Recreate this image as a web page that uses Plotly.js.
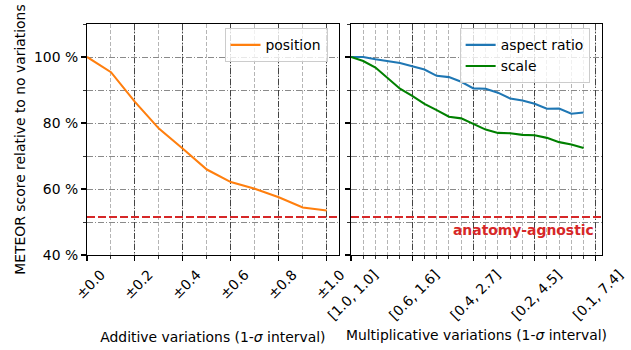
<!DOCTYPE html>
<html>
<head>
<meta charset="utf-8">
<script src="https://cdn.plot.ly/plotly-3.0.1.min.js"></script>
<style>html,body{margin:0;padding:0;background:#fff;}#chart{width:631px;height:350px;}</style>
</head>
<body>
<div id="chart"></div>
<script>
// ---- data ----
const additiveX = [0, 0.1, 0.2, 0.3, 0.4, 0.5, 0.6, 0.7, 0.8, 0.9, 1.0];
const positionVals = [100, 95.4, 86.4, 78.3, 72.2, 65.9, 62.1, 60.1, 57.5, 54.4, 53.5];

const sigmaX = [0, 0.1, 0.2, 0.3, 0.4, 0.5, 0.6, 0.7, 0.8, 0.9, 1.0, 1.1, 1.2, 1.3, 1.4, 1.5, 1.6, 1.7, 1.8, 1.9];
const aspectVals = [100, 100, 99.3, 98.8, 98.2, 97.2, 96.2, 94.3, 93.9, 92.5, 90.5, 90.4, 89.2, 87.4, 86.8, 85.8, 84.3, 84.4, 82.8, 83.2];
const scaleVals = [100, 98.8, 96.8, 93.6, 90.4, 88.2, 85.8, 83.9, 81.9, 81.4, 79.8, 78.0, 77.0, 76.9, 76.4, 76.3, 75.5, 74.2, 73.5, 72.4];

const baselineVal = 51.5;
const baselineLabel = 'anatomy-agnostic';

const additiveTickVals = [0, 0.2, 0.4, 0.6, 0.8, 1.0];
const additiveTickText = ['±0.0', '±0.2', '±0.4', '±0.6', '±0.8', '±1.0'];
const multTickVals = [0, 0.5, 1.0, 1.5, 2.0];
const multTickText = ['[1.0, 1.0]', '[0.6, 1.6]', '[0.4, 2.7]', '[0.2, 4.5]', '[0.1, 7.4]'];
const yTickVals = [40, 60, 80, 100];
const yTickText = ['40 %', '60 %', '80 %', '100 %'];

// ---- styling ----
const FONT = 'DejaVu Sans, sans-serif';
const FS = 13.9;
const majGridX = {color: '#444444', dash: '6px,2px,1px,2px'};
const minGridX = {color: '#b5b5b5', dash: '4px,2px'};
const gridY = {color: '#8a8a8a', dash: '6px,2px,1px,2px'};

function xAxis(domain, tv, tt, range, title, shift, standoff) {
  return {
    domain: domain, range: range, tickmode: 'array', tickvals: tv, ticktext: tt,
    tickangle: -45, ticklabelshift: shift, ticks: 'outside', ticklen: 5, tickwidth: 1.1, tickcolor: '#000',
    showline: true, linecolor: '#000', linewidth: 1.1, mirror: true, zeroline: false,
    showgrid: true, gridcolor: majGridX.color, griddash: majGridX.dash, gridwidth: 1,
    minor: {tickmode: 'linear', tick0: 0, dtick: 0.1, ticks: 'outside', ticklen: 2.8, tickwidth: 0.8, tickcolor: '#000',
            showgrid: true, gridcolor: minGridX.color, griddash: minGridX.dash, gridwidth: 1},
    tickfont: {family: FONT, size: FS, color: '#000'},
    title: {text: title, font: {family: FONT, size: FS, color: '#000'}, standoff: standoff},
    automargin: false, fixedrange: true
  };
}
function yAxis(showLabels, anchor, title) {
  const a = {
    range: [40, 110], tickmode: 'array', tickvals: yTickVals, ticktext: yTickText, showticklabels: showLabels,
    ticks: 'outside', ticklen: 5, tickwidth: 1.1, tickcolor: '#000',
    showline: true, linecolor: '#000', linewidth: 1.1, mirror: true, zeroline: false,
    showgrid: true, gridcolor: gridY.color, griddash: gridY.dash, gridwidth: 1,
    minor: {tickmode: 'linear', tick0: 0, dtick: 10, ticks: 'outside', ticklen: 2.8, tickwidth: 0.8, tickcolor: '#000',
            showgrid: true, gridcolor: gridY.color, griddash: gridY.dash, gridwidth: 1},
    tickfont: {family: FONT, size: FS, color: '#000'},
    automargin: false, fixedrange: true, anchor: anchor
  };
  if (title) a.title = {text: title, font: {family: FONT, size: FS, color: '#000'}, standoff: 5};
  return a;
}

const traces = [
  {x: additiveX, y: positionVals, name: 'position', type: 'scatter', mode: 'lines',
   line: {color: '#ff7f0e', width: 2.1}, xaxis: 'x', yaxis: 'y', legend: 'legend'},
  {x: sigmaX, y: aspectVals, name: 'aspect ratio', type: 'scatter', mode: 'lines',
   line: {color: '#1f77b4', width: 2.1}, xaxis: 'x2', yaxis: 'y2', legend: 'legend2'},
  {x: sigmaX, y: scaleVals, name: 'scale', type: 'scatter', mode: 'lines',
   line: {color: '#008000', width: 2.1}, xaxis: 'x2', yaxis: 'y2', legend: 'legend2'}
];

const legendStyle = {
  bgcolor: 'rgba(255,255,255,0.8)', bordercolor: '#cccccc', borderwidth: 1,
  font: {family: FONT, size: FS, color: '#000'}, xanchor: 'right', yanchor: 'top', yref: 'paper', xref: 'paper'
};

const layout = {
  width: 631, height: 350,
  margin: {l: 87, r: 29, t: 24, b: 95, pad: 0},
  paper_bgcolor: '#fff', plot_bgcolor: '#fff',
  font: {family: FONT, size: FS, color: '#000'},
  xaxis: xAxis([0, 0.4887], additiveTickVals, additiveTickText, [0, 1.05], 'Additive variations (1-<i>σ</i> interval)', 14, 31),
  xaxis2: xAxis([0.5126, 1], multTickVals, multTickText, [0, 2.05], 'Multiplicative variations (1-<i>σ</i> interval)', 23, 8),
  yaxis: yAxis(true, 'x', 'METEOR score relative to no variations'),
  yaxis2: yAxis(false, 'x2', null),
  legend: Object.assign({x: 0.467, y: 0.981}, legendStyle),
  legend2: Object.assign({x: 0.976, y: 0.981}, legendStyle),
  shapes: [
    {type: 'line', xref: 'x domain', yref: 'y', x0: 0, x1: 1, y0: baselineVal, y1: baselineVal,
     line: {color: '#d62728', width: 2.1, dash: '8px,3px'}},
    {type: 'line', xref: 'x2 domain', yref: 'y2', x0: 0, x1: 1, y0: baselineVal, y1: baselineVal,
     line: {color: '#d62728', width: 2.1, dash: '8px,3px'}}
  ],
  annotations: [
    {xref: 'x2', yref: 'y2', x: 2.0, y: baselineVal, yshift: -13, xanchor: 'right', yanchor: 'middle',
     text: '<b>' + baselineLabel + '</b>', showarrow: false,
     font: {family: FONT, size: FS, color: '#d62728'}}
  ],
  showlegend: true
};

Plotly.newPlot('chart', traces, layout, {staticPlot: true, displayModeBar: false});
</script>
</body>
</html>
